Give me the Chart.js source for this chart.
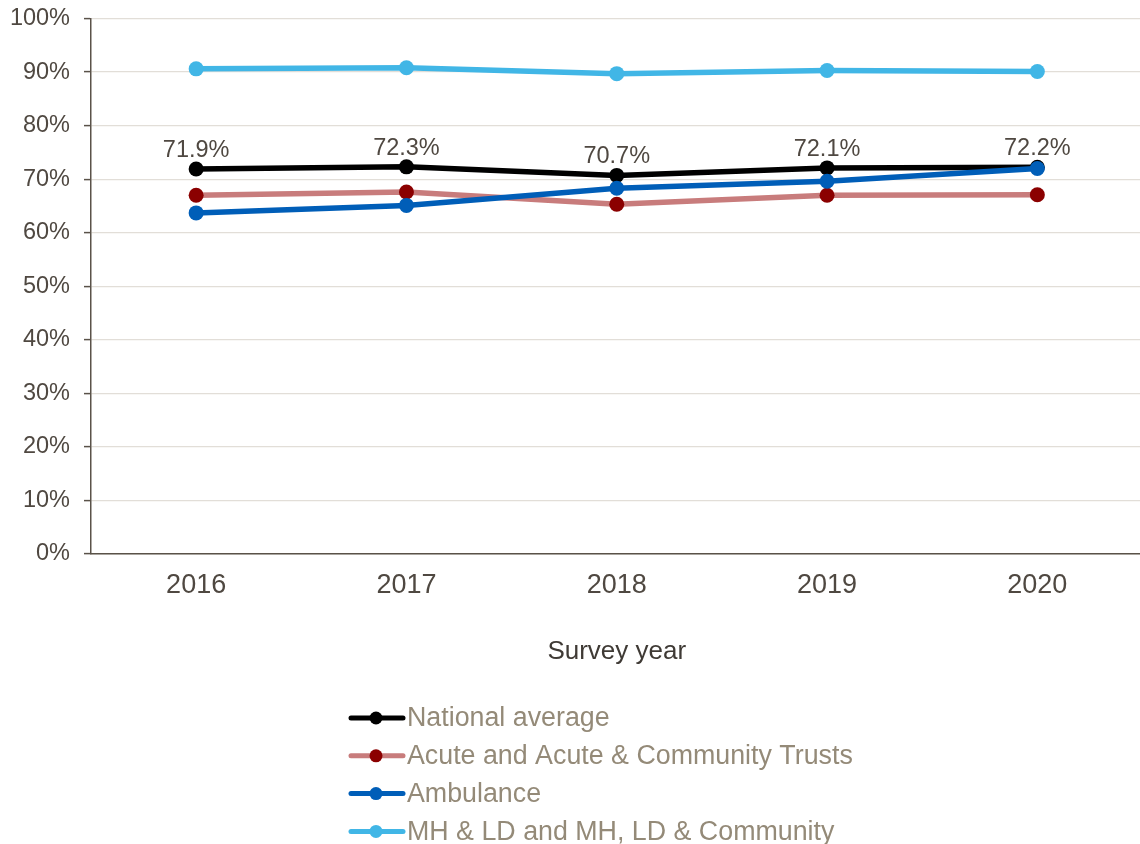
<!DOCTYPE html>
<html>
<head>
<meta charset="utf-8">
<title>Survey year trend</title>
<script src="https://cdn.jsdelivr.net/npm/chart.js@4"></script>
<style>
  html, body { margin: 0; padding: 0; overflow: hidden; background: #ffffff; }
  #wrap { width: 1140px; height: 844px; overflow: hidden; }
</style>
</head>
<body>
<div id="wrap"><canvas id="chart" width="1150" height="844"></canvas></div>
<script>
////////////
//// Data

let YEARS = ['2016', '2017', '2018', '2019', '2020'];

let NATIONAL  = [71.9, 72.3, 70.7, 72.1, 72.2];
let ACUTE     = [67.0, 67.6, 65.3, 67.0, 67.1];
let AMBULANCE = [63.7, 65.1, 68.3, 69.6, 72.0];
let MH_LD     = [90.6, 90.8, 89.7, 90.3, 90.1];

let SERIES_NAMES = [
	'National average',
	'Acute and Acute & Community Trusts',
	'Ambulance',
	'MH & LD and MH, LD & Community'
];

let Y_TICKS = [0, 10, 20, 30, 40, 50, 60, 70, 80, 90, 100];

////////////
//// Styles

let FONT = '"Liberation Sans", Arial, sans-serif';
let AXIS_COLOR = '#5a5249';
let TEXT_COLOR = '#4f4841';
let LEGEND_TEXT = '#948a78';

let LINE_COLORS   = ['#000000', '#c87c7c', '#005eb8', '#41b6e6'];
let MARKER_COLORS = ['#000000', '#8b0000', '#005eb8', '#41b6e6'];

function makeDataset(i, values) {
	return {
		label: SERIES_NAMES[i],
		data: values,
		borderColor: LINE_COLORS[i],
		backgroundColor: MARKER_COLORS[i],
		pointBackgroundColor: MARKER_COLORS[i],
		pointBorderColor: MARKER_COLORS[i],
		pointRadius: 7.5,
		pointBorderWidth: 0,
		borderWidth: 5.5,
		tension: 0,
		fill: false,
		order: 4 - i   // later series drawn on top
	};
}

// value labels above the national average points
let valueLabels = {
	id: 'valueLabels',
	afterDatasetsDraw(chart) {
		let ctx = chart.ctx;
		let meta = chart.getDatasetMeta(0);
		ctx.save();
		ctx.font = '23.5px ' + FONT;
		ctx.fillStyle = TEXT_COLOR;
		ctx.textAlign = 'center';
		ctx.textBaseline = 'alphabetic';
		meta.data.forEach(function(pt, j) {
			ctx.fillText(NATIONAL[j].toFixed(1) + '%', pt.x, pt.y - 12);
		});
		ctx.restore();
	}
};

// vertical legend with line + marker symbols
let lineLegend = {
	id: 'lineLegend',
	afterDraw(chart) {
		let ctx = chart.ctx;
		ctx.save();
		ctx.font = '26.8px ' + FONT;
		ctx.textAlign = 'left';
		ctx.textBaseline = 'middle';
		chart.data.datasets.forEach(function(ds, i) {
			let y = 718 + i * 37.8;
			ctx.strokeStyle = LINE_COLORS[i];
			ctx.lineWidth = 5;
			ctx.lineCap = 'round';
			ctx.beginPath();
			ctx.moveTo(351, y);
			ctx.lineTo(403, y);
			ctx.stroke();
			ctx.fillStyle = MARKER_COLORS[i];
			ctx.beginPath();
			ctx.arc(376, y, 6.5, 0, Math.PI * 2);
			ctx.fill();
			ctx.fillStyle = LEGEND_TEXT;
			ctx.fillText(ds.label, 407, y + 1);
		});
		ctx.restore();
	}
};

////////////
//// Chart

let ctx = document.getElementById('chart').getContext('2d');
let chart = new Chart(ctx, {
	type: 'line',
	data: {
		labels: YEARS,
		datasets: [
			makeDataset(0, NATIONAL),
			makeDataset(1, ACUTE),
			makeDataset(2, AMBULANCE),
			makeDataset(3, MH_LD)
		]
	},
	options: {
		responsive: false,
		animation: false,
		devicePixelRatio: 1,
		layout: { padding: { top: 18.5, left: 0, right: 0, bottom: 172 } },
		plugins: {
			legend: { display: false },
			tooltip: { enabled: false }
		},
		scales: {
			x: {
				offset: true,
				afterFit: function(scale) { scale.height = 118; },
				grid: { display: false, drawTicks: false },
				border: { display: true, color: AXIS_COLOR, width: 1.5 },
				ticks: {
					color: TEXT_COLOR,
					font: { family: FONT, size: 27 },
					padding: 15,
					maxRotation: 0
				},
				title: {
					display: true,
					text: 'Survey year',
					color: '#3f3a35',
					font: { family: FONT, size: 26 },
					padding: { top: 0, bottom: 5 }
				}
			},
			y: {
				min: 0,
				max: 100,
				afterFit: function(scale) {
					scale.width = 91;
					// labels may overhang the plot; layout padding handles the top
					scale.paddingTop = 0;
					scale.paddingBottom = 0;
				},
				afterBuildTicks: function(scale) {
					scale.ticks = Y_TICKS.map(function(v) { return { value: v }; });
				},
				grid: {
					color: '#e2ded8',
					lineWidth: 1.2,
					drawTicks: true,
					tickLength: 7,
					tickColor: AXIS_COLOR,
					tickWidth: 1.5
				},
				border: { display: true, color: AXIS_COLOR, width: 1.5 },
				ticks: {
					color: TEXT_COLOR,
					font: { family: FONT, size: 23.5 },
					padding: 14,
					callback: function(v) { return v + '%'; }
				}
			}
		}
	},
	plugins: [valueLabels, lineLegend]
});
</script>
</body>
</html>
